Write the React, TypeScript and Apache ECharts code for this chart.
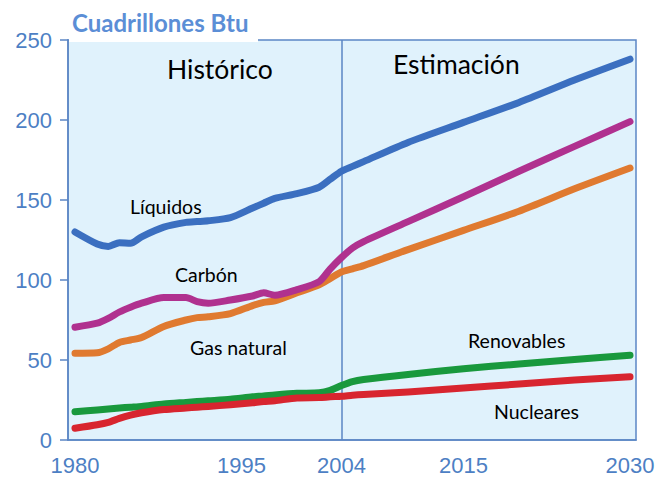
import React, { useEffect, useRef } from "react";
import * as echarts from "echarts";

const years = [1980, 1982, 1983, 1984, 1985, 1986, 1988, 1990, 1991, 1992, 1994, 1996, 1997, 1998, 2000, 2002, 2003, 2004, 2005, 2006, 2010, 2015, 2020, 2025, 2030];
const liquidos = [130, 122.5, 121, 123.3, 123, 127, 133, 136, 136.5, 137, 139, 145, 148, 151, 154, 158, 163, 168, 171, 174, 186, 198.5, 211, 225, 238];
const carbon = [70.5, 73, 76, 80, 83, 85.5, 89, 89, 86.5, 85.5, 87.5, 90, 92, 90.5, 94, 99, 107, 114, 120, 124, 136.5, 152, 168, 183.5, 199];
const gasNatural = [54.2, 54.5, 57, 61, 62.5, 64, 71, 75, 76.5, 77, 79, 84, 86, 87, 92, 97, 101, 105, 107, 109, 119, 131, 143, 157, 170];
const renovables = [17.7, 18.8, 19.4, 20, 20.5, 21, 22.5, 23.5, 24, 24.5, 25.5, 27, 27.5, 28.2, 29.2, 29.5, 31, 34, 36.5, 37.8, 41, 44.5, 47.5, 50.3, 53];
const nucleares = [7.3, 9.5, 11, 13.5, 15.5, 17, 19, 20, 20.5, 21, 22, 23.3, 24, 24.5, 26.3, 26.5, 27, 27.3, 28, 28.5, 30, 32.5, 35, 37.5, 39.5];
const xTickLabels = [1980, 1995, 2004, 2015, 2030];
const splitYear = 2004;

const axisBlue = "#5b86c5";
const labelBlue = "#4d7fc4";
const annFont = "Lato, 'Open Sans', sans-serif";

function mk(name: string, vals: number[], color: string, extra: any = {}) {
  return {
    name,
    type: "line",
    data: years.map((y, i) => [y, vals[i]]),
    showSymbol: false,
    smooth: 0.25,
    lineStyle: { color, width: 7, cap: "round", join: "round" },
    itemStyle: { color },
    ...extra,
  };
}

export default function App() {
  const ref = useRef<HTMLDivElement>(null);
  useEffect(() => {
    if (!ref.current) return;
    const chart = echarts.init(ref.current, null, { renderer: "svg" });
    const ann = (text: string, x: number, y: number, size: number) => ({
      type: "text",
      x,
      y,
      z: 50,
      style: {
        text,
        fill: "#000",
        font: `${size}px ${annFont}`,
        textAlign: "left",
        textVerticalAlign: "middle",
      },
    });
    chart.setOption({
      animation: false,
      backgroundColor: "#fff",
      grid: {
        left: 68,
        right: 22,
        top: 40,
        bottom: 37,
        show: true,
        backgroundColor: "#e0f2fc",
        borderColor: axisBlue,
        borderWidth: 1.5,
      },
      xAxis: {
        type: "value",
        min: 1979.37,
        max: 2030.54,
        axisLine: { show: true, lineStyle: { color: axisBlue, width: 1.5 } },
        axisTick: { show: false },
        splitLine: { show: false },
        axisLabel: {
          customValues: xTickLabels,
          formatter: (v: number) => String(Math.round(v)),
          color: labelBlue,
          fontSize: 22,
          fontFamily: "'Liberation Sans', Arial, sans-serif",
          margin: 14,
        },
      },
      yAxis: {
        type: "value",
        min: 0,
        max: 250,
        interval: 50,
        axisLine: { show: true, lineStyle: { color: axisBlue, width: 1.5 } },
        axisTick: { show: true, length: 8, lineStyle: { color: axisBlue, width: 1.5 } },
        splitLine: { show: false },
        axisLabel: {
          color: labelBlue,
          fontSize: 22,
          fontFamily: "'Liberation Sans', Arial, sans-serif",
          margin: 16,
        },
      },
      series: [
        mk("Líquidos", liquidos, "#3b6fc0", {
          markLine: {
            silent: true,
            symbol: ["none", "none"],
            label: { show: false },
            lineStyle: { color: axisBlue, width: 1.5, type: "solid" },
            data: [{ xAxis: splitYear }],
            z: 1,
          },
        }),
        mk("Gas natural", gasNatural, "#e07a30"),
        mk("Carbón", carbon, "#b0318f"),
        mk("Renovables", renovables, "#19993d"),
        mk("Nucleares", nucleares, "#d8252f"),
      ],
      graphic: [
        {
          type: "rect",
          shape: { x: 69, y: 36, width: 189, height: 6 },
          style: { fill: "#fff" },
          z: 100,
        },
        {
          type: "text",
          x: 72,
          y: 22,
          z: 101,
          style: {
            text: "Cuadrillones Btu",
            fill: "#5b8ed6",
            font: `bold 24px ${annFont}`,
            textAlign: "left",
            textVerticalAlign: "middle",
          },
        },
        ann("Histórico", 167, 69, 26.5),
        ann("Estimación", 393, 64, 26.5),
        ann("Líquidos", 130, 206, 19.5),
        ann("Carbón", 175, 274, 19.5),
        ann("Gas natural", 190, 347, 19.5),
        ann("Renovables", 468, 340, 19.5),
        ann("Nucleares", 494, 411, 19.5),
      ],
    });
    return () => chart.dispose();
  }, []);
  return (
    <div
      ref={ref}
      style={{ position: "absolute", left: 0, top: 0, width: 658, height: 477 }}
    />
  );
}
